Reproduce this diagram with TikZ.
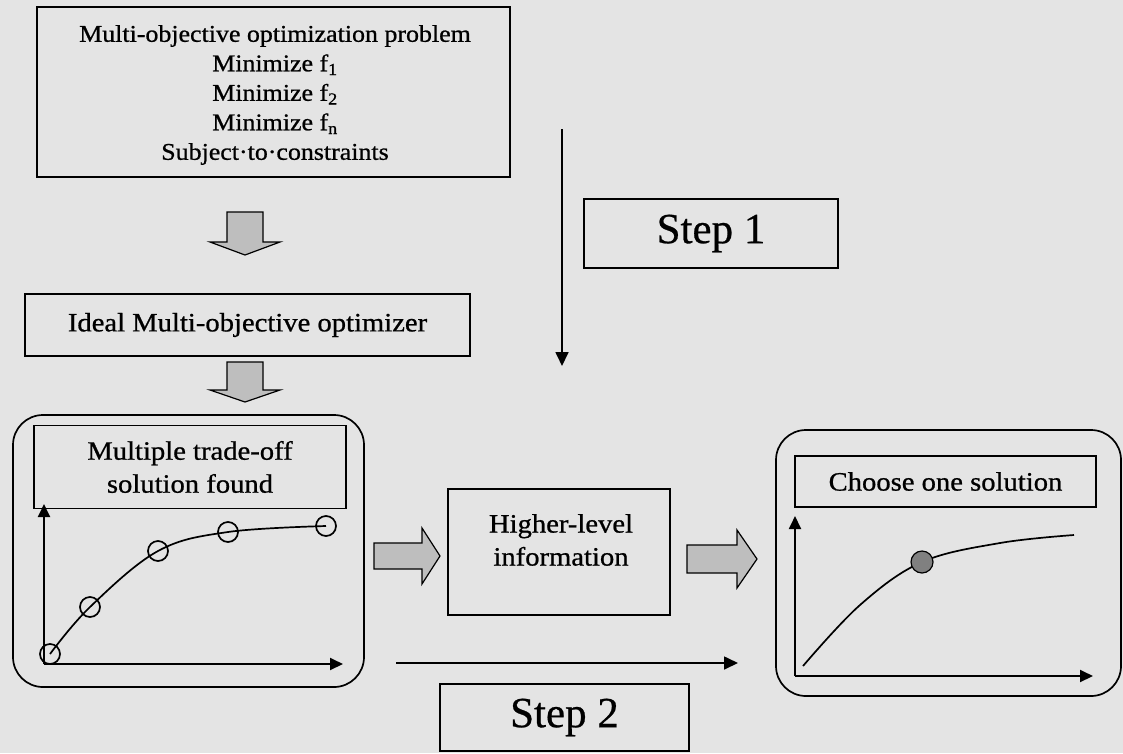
\documentclass[tikz,border=0pt]{standalone}
\usepackage{fontspec}
\setmainfont{Liberation Serif}
\newfontfamily\schfont[FakeStretch=1.08, FakeBold=0.8]{Liberation Serif}
\newfontfamily\stepfont[FakeBold=0.6]{Liberation Serif}
\usetikzlibrary{arrows.meta,calc}
\definecolor{paper}{RGB}{228,228,228}
\definecolor{blockgray}{RGB}{190,190,190}
\definecolor{dotgray}{RGB}{128,128,128}

% wide gray block arrow: centre, angle, length, shaft half-width, head half-width, head length
\newcommand{\blockarrowat}[6]{%
  \filldraw[blockarrow, shift={#1}, rotate=#2]
    (-#3/2,-#4) -- (#3/2-#6,-#4) -- (#3/2-#6,-#5) -- (#3/2,0)
    -- (#3/2-#6,#5) -- (#3/2-#6,#4) -- (-#3/2,#4) -- cycle;}

\begin{document}
\begin{tikzpicture}[x=1pt,y=-1pt,
  frame/.style={draw=black, line width=1.7pt, inner sep=0pt},
  panel/.style={draw=black, line width=1.7pt, rounded corners=30pt, inner sep=0pt},
  bodytext/.style={font=\schfont\fontsize{26.5}{33}\selectfont, align=center, inner sep=0pt},
  steptext/.style={font=\stepfont\fontsize{43}{48}\selectfont, inner sep=0pt},
  flow/.style={line width=1.7pt, -{Triangle[length=14pt,width=13pt]}},
  axis/.style={line width=1.9pt, -{Triangle[length=13pt,width=12pt]}},
  blockarrow/.style={draw=black, line width=1.2pt, fill=blockgray, line join=miter},
  front/.style={line width=1.7pt},
  marker/.style={circle, draw=black, line width=1.7pt, minimum size=20pt, inner sep=0pt}
]
\fill[paper] (0,0) rectangle (1123,753);
\useasboundingbox (0,0) rectangle (1123,753);

% problem statement
\node[frame, minimum width=473, minimum height=170] (problem) at (273.5,92) {};
\node[bodytext, font=\schfont\fontsize{24}{29.5}\selectfont] (problemtext) at (275,95)
  {Multi-objective optimization problem\\
   Minimize f\textsubscript{1}\\
   Minimize f\textsubscript{2}\\
   Minimize f\textsubscript{n}\\
   Subject·to·constraints};

\blockarrowat{(245,233.5)}{-90}{43}{18}{35}{13}

% optimizer
\node[frame, bodytext, minimum width=445, minimum height=62] (ideal) at (247.5,325)
  {Ideal Multi-objective optimizer};

\blockarrowat{(245,382)}{-90}{40}{18}{35}{12}

% step 1
\coordinate (s1start) at (562,129);
\coordinate (s1end) at (562,366);
\draw[flow] (s1start) -- (s1end);
\node[frame, steptext, minimum width=254, minimum height=69] (step1) at (711,233.5) {Step 1};

% trade-off front
\node[panel, minimum width=351, minimum height=272] (front1) at (188.5,551) {};
\node[frame, bodytext, minimum width=312, minimum height=83] (tradeoff) at (190,467)
  {Multiple trade-off\\solution found};
\coordinate (o1) at (44,664);
\coordinate (y1) at (44,504);
\coordinate (x1) at (343,664);
\draw[axis] (o1) -- (y1);
\draw[axis] (o1) -- (x1);
\node[marker] (m1) at (50,654) {};
\node[marker] (m2) at (90,607) {};
\node[marker] (m3) at (158,551) {};
\node[marker] (m4) at (228,532) {};
\node[marker] (m5) at (326,526) {};
\draw[front] plot[smooth, tension=0.6] coordinates
  {(m1.center) (m2.center) (m3.center) (m4.center) (m5.center)};

\blockarrowat{(407,556)}{0}{66}{13}{28}{18}

% decision maker
\node[frame, minimum width=222, minimum height=126] (higher) at (559,552) {};
\node[bodytext] (highertext) at (561,540) {Higher-level\\information};

\blockarrowat{(722,559)}{0}{70}{14}{29}{20}

% chosen solution
\node[panel, minimum width=345, minimum height=266] (front2) at (948.5,563) {};
\node[frame, bodytext, minimum width=301, minimum height=51] (choose) at (945.5,481.5)
  {Choose one solution};
\coordinate (o2) at (795,676);
\coordinate (y2) at (795,516);
\coordinate (x2) at (1093,676);
\draw[axis] (o2) -- (y2);
\draw[axis] (o2) -- (x2);
\coordinate (c0) at (803,666);
\coordinate (c1) at (860,605);
\coordinate (c3) at (1000,543);
\coordinate (c4) at (1074,535);
\coordinate (pickpos) at (922,562);
\draw[front] plot[smooth, tension=0.6] coordinates
  {(c0) (c1) (pickpos) (c3) (c4)};
\node[circle, draw=black, line width=1.2pt, fill=dotgray, minimum size=22pt, inner sep=0pt] (pick) at (pickpos) {};

% step 2
\coordinate (s2start) at (396,663);
\coordinate (s2end) at (738,663);
\draw[flow] (s2start) -- (s2end);
\node[frame, steptext, minimum width=249, minimum height=67] (step2) at (564.5,717.5) {Step 2};
\end{tikzpicture}
\end{document}
